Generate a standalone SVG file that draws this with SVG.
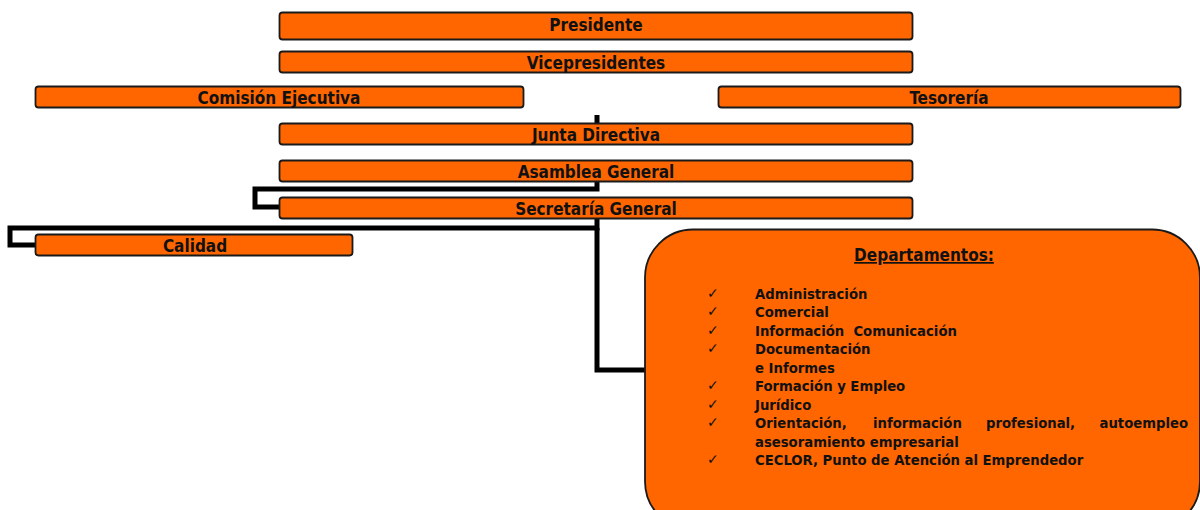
<svg xmlns="http://www.w3.org/2000/svg" width="1200" height="510" viewBox="0 0 1200 510">
<style>
.box{fill:#FF6600;stroke:#1a1a1a;stroke-width:1.8}
.lbl{font-family:"DejaVu Sans Condensed","DejaVu Sans",sans-serif;font-stretch:condensed;font-weight:bold;font-size:17px;fill:#111;text-anchor:middle}
.it{font-family:"DejaVu Sans Condensed","DejaVu Sans",sans-serif;font-stretch:condensed;font-weight:bold;font-size:14.7px;fill:#111}
.ck{font-family:"DejaVu Sans",sans-serif;font-size:14px;fill:#111}
.con{fill:none;stroke:#000;stroke-width:5;stroke-linejoin:miter}
</style>
<rect width="1200" height="510" fill="#fff"/>
<g id="connectors">
<line class="con" x1="597" y1="115" x2="597" y2="123"/>
<path class="con" d="M597,181 V189 H255 V207 H280"/>
<path class="con" d="M597,218 V228 H10 V245 H36"/>
<path class="con" d="M597,228 V370 H646"/>
</g>
<g id="presidente"><rect class="box" x="279.5" y="12.5" width="633" height="27" rx="3"/><text class="lbl" x="596" y="31">Presidente</text></g>
<g id="vicepresidentes"><rect class="box" x="279.5" y="51.5" width="633" height="21" rx="3"/><text class="lbl" x="596" y="69">Vicepresidentes</text></g>
<g id="comision"><rect class="box" x="35.5" y="86.5" width="488" height="21" rx="3"/><text class="lbl" x="279" y="104">Comisión Ejecutiva</text></g>
<g id="tesoreria"><rect class="box" x="718.5" y="86.5" width="462" height="21" rx="3"/><text class="lbl" x="949" y="104">Tesorería</text></g>
<g id="junta"><rect class="box" x="279.5" y="123.5" width="633" height="21" rx="3"/><text class="lbl" x="596" y="141">Junta Directiva</text></g>
<g id="asamblea"><rect class="box" x="279.5" y="160.5" width="633" height="21" rx="3"/><text class="lbl" x="596" y="178">Asamblea General</text></g>
<g id="secretaria"><rect class="box" x="279.5" y="197.5" width="633" height="21" rx="3"/><text class="lbl" x="596" y="215">Secretaría General</text></g>
<g id="calidad"><rect class="box" x="35.5" y="234.5" width="317" height="21" rx="3"/><text class="lbl" x="195" y="252">Calidad</text></g>
<g id="departamentos">
<rect class="box" x="645" y="229.5" width="555" height="300" rx="48"/>
<text class="lbl" x="924" y="261" text-decoration="underline">Departamentos:</text>
<text class="ck" x="707" y="298">✓</text><text class="it" x="755" y="299">Administración</text>
<text class="ck" x="707" y="316">✓</text><text class="it" x="755" y="317">Comercial</text>
<text class="ck" x="707" y="335">✓</text><text class="it" x="755" y="336" xml:space="preserve">Información  Comunicación</text>
<text class="ck" x="707" y="353">✓</text><text class="it" x="755" y="354">Documentación</text>
<text class="it" x="755" y="373">e Informes</text>
<text class="ck" x="707" y="390">✓</text><text class="it" x="755" y="391">Formación y Empleo</text>
<text class="ck" x="707" y="409">✓</text><text class="it" x="755" y="410">Jurídico</text>
<text class="ck" x="707" y="427">✓</text><text class="it" x="755" y="428">Orientación,</text><text class="it" x="873" y="428">información</text><text class="it" x="986" y="428">profesional,</text><text class="it" x="1188" y="428" text-anchor="end">autoempleo</text>
<text class="it" x="755" y="447">asesoramiento empresarial</text>
<text class="ck" x="707" y="464">✓</text><text class="it" x="755" y="465">CECLOR, Punto de Atención al Emprendedor</text>
</g>
</svg>
